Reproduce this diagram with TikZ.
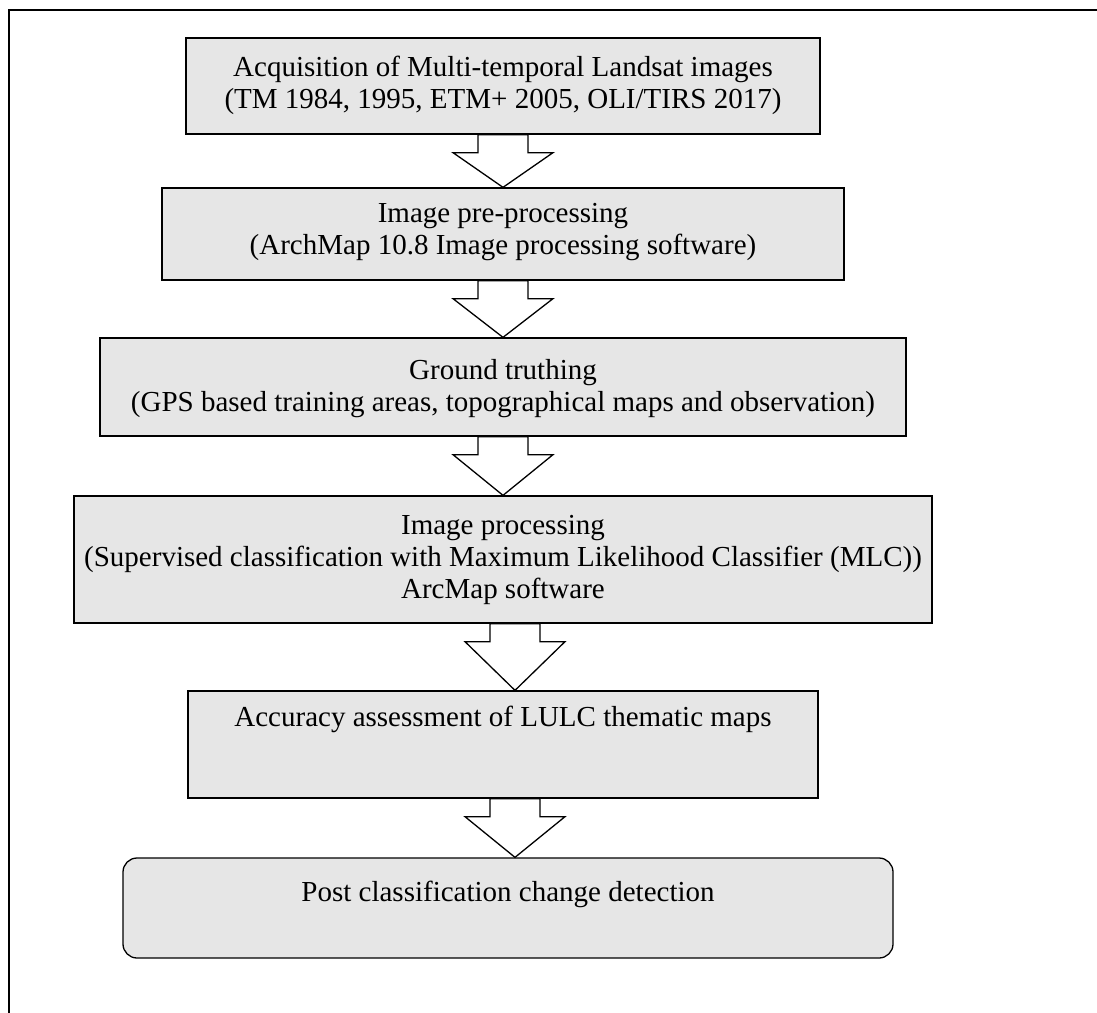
\documentclass[tikz,border=0pt]{standalone}
\usepackage{fontspec}
\setmainfont{Liberation Serif}
\usepackage{xcolor}
\usetikzlibrary{calc,positioning}
\definecolor{boxgray}{HTML}{E6E6E6}
\tikzset{stepbox/.style={draw,fill=boxgray,line width=1.3pt,inner sep=0pt},
  boxtext/.style={align=center,inner sep=0pt,font=\fontsize{29}{32}\selectfont},
  blockarrow/.style={draw,fill=white,line width=1.3pt,line join=miter}}

\begin{document}
\begin{tikzpicture}[x=1pt,y=-1pt]
    \useasboundingbox (0,0) rectangle (1097,1012);
    \draw[line width=2pt] (9,1030) -- (9,10) -- (1110,10);

    \node[stepbox,minimum width=634pt,minimum height=96pt] (acq) at (503,86) {};
    \node[stepbox,minimum width=682pt,minimum height=92pt] (prep) at (503,234) {};
    \node[stepbox,minimum width=806pt,minimum height=98pt] (ground) at (503,387) {};
    \node[stepbox,minimum width=858pt,minimum height=127pt] (proc) at (503,559.5) {};
    \node[stepbox,minimum width=630pt,minimum height=107pt] (acc) at (503,744.5) {};
    \node[stepbox,rounded corners=14pt,minimum width=770pt,minimum height=100pt] (post) at (508,908) {};

    \node[boxtext,anchor=north] (acqtext) at ([yshift=-19pt]acq.north)
      {Acquisition of Multi-temporal Landsat images\\(TM 1984, 1995, ETM+ 2005, OLI/TIRS 2017)};
    \node[boxtext,anchor=north] (preptext) at ([yshift=-16pt]prep.north)
      {Image pre-processing\\(ArchMap 10.8 Image processing software)};
    \node[boxtext,anchor=north] (groundtext) at ([yshift=-22pt]ground.north)
      {Ground truthing\\(GPS based training areas, topographical maps and observation)};
    \node[boxtext,anchor=north] (proctext) at ([yshift=-20pt]proc.north)
      {Image processing\\(Supervised classification with Maximum Likelihood Classifier (MLC))\\ArcMap software};
    \node[boxtext,anchor=north] (acctext) at ([yshift=-16pt]acc.north)
      {Accuracy assessment of LULC thematic maps};
    \node[boxtext,anchor=north] (posttext) at ([yshift=-24pt]post.north)
      {Post classification change detection};

    % block arrows between the steps
    \foreach \a/\b/\dx in {acq/prep/0,prep/ground/0,ground/proc/0,proc/acc/12,acc/post/12} {
      \draw[blockarrow] let \p1=(\a.south), \p2=(\b.north) in
        (\x1+\dx-25,\y1) -- (\x1+\dx-25,\y1-18) -- (\x1+\dx-50,\y1-18) -- (\x1+\dx,\y2)
        -- (\x1+\dx+50,\y1-18) -- (\x1+\dx+25,\y1-18) -- (\x1+\dx+25,\y1) -- cycle;
    }
\end{tikzpicture}
\end{document}
